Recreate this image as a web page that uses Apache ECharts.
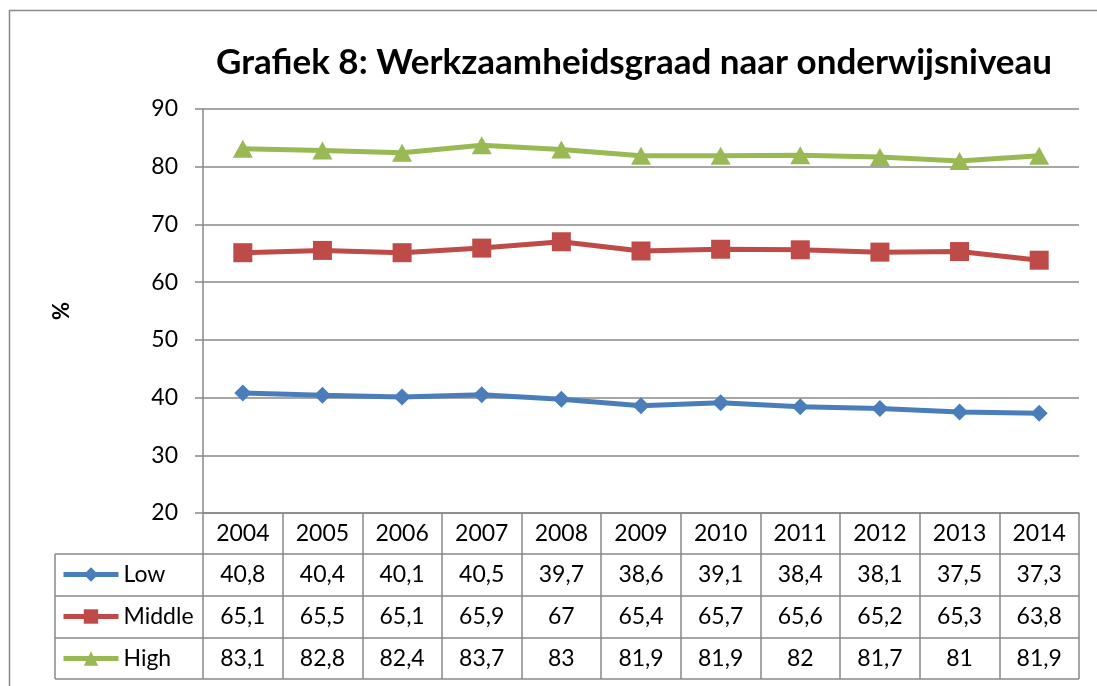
<!DOCTYPE html>
<html>
<head>
<meta charset="utf-8">
<title>Grafiek 8</title>
<script src="https://cdn.jsdelivr.net/npm/echarts@6/dist/echarts.min.js"></script>
<style>
  html, body { margin: 0; padding: 0; background: #fff; }
  #chart { width: 1097px; height: 686px; }
</style>
</head>
<body>
<div id="chart"></div>
<script>
// jaren en werkzaamheidsgraad per niveau
const years = ['2004', '2005', '2006', '2007', '2008', '2009', '2010', '2011', '2012', '2013', '2014']
const low = [40.8, 40.4, 40.1, 40.5, 39.7, 38.6, 39.1, 38.4, 38.1, 37.5, 37.3]
const middle = [65.1, 65.5, 65.1, 65.9, 67, 65.4, 65.7, 65.6, 65.2, 65.3, 63.8]
const high = [83.1, 82.8, 82.4, 83.7, 83, 81.9, 81.9, 82, 81.7, 81, 81.9]

const FONT = 'Lato, "Open Sans", sans-serif'
const GRID = '#888888'
const FS = 23

// komma als decimaalteken
const fmt = v => String(v).replace('.', ',')

// extra x-as per tabelrij, zonder lijnen
const rowAxis = (values, offset) => ({
  type: 'category',
  data: values.map(fmt),
  position: 'bottom',
  offset,
  axisLine: { show: false },
  axisTick: { show: false },
  axisLabel: { color: '#000', fontSize: FS, fontFamily: FONT, margin: 8 }
})

const chart = echarts.init(document.getElementById('chart'))

const plotLeft = 203
const plotRight = 1079
const plotTop = 109
const plotBottom = 513
const tableLeft = 55
const rows = [554, 596, 638, 679]

const option = {
  animation: false,
  title: {
    text: 'Grafiek 8: Werkzaamheidsgraad naar onderwijsniveau',
    left: 211,
    top: 40,
    textStyle: { fontSize: 35, fontWeight: 'bold', color: '#000', fontFamily: FONT }
  },
  legend: {
    orient: 'vertical',
    left: 61,
    top: 563,
    padding: 0,
    itemWidth: 55,
    itemHeight: 18,
    itemGap: 19,
    lineStyle: { width: 5 },
    textStyle: { fontSize: FS, lineHeight: 23, color: '#000', fontFamily: FONT },
    data: ['Low', 'Middle', 'High']
  },
  grid: { left: plotLeft, right: 1097 - plotRight, top: plotTop, bottom: 686 - plotBottom },
  xAxis: [
    {
      type: 'category',
      data: years,
      boundaryGap: true,
      axisLine: { show: true, lineStyle: { color: GRID, width: 1.5 } },
      axisTick: { show: true, length: rows[3] - plotBottom, lineStyle: { color: GRID, width: 1.5 } },
      axisLabel: { color: '#000', fontSize: FS, fontFamily: FONT, margin: 9 }
    },
    rowAxis(low, 42),
    rowAxis(middle, 84),
    rowAxis(high, 126)
  ],
  yAxis: {
    type: 'value',
    min: 20,
    max: 90,
    interval: 10,
    name: '%',
    nameLocation: 'middle',
    nameRotate: 90,
    nameGap: 130,
    nameTextStyle: { fontSize: 22, fontWeight: 'bold', color: '#000', fontFamily: FONT },
    axisLine: { show: true, lineStyle: { color: GRID, width: 1.5 } },
    axisTick: { show: true, length: 8, lineStyle: { color: GRID, width: 1.5 } },
    axisLabel: { color: '#000', fontSize: FS, fontFamily: FONT, margin: 25 },
    splitLine: { lineStyle: { color: GRID, width: 1.5 } }
  },
  series: [
    {
      name: 'Low',
      type: 'line',
      data: low,
      color: '#4A7EBB',
      symbol: 'diamond',
      symbolSize: 17,
      lineStyle: { width: 5 }
    },
    {
      name: 'Middle',
      type: 'line',
      data: middle,
      color: '#BE4B48',
      symbol: 'rect',
      symbolSize: 19,
      lineStyle: { width: 5 }
    },
    {
      name: 'High',
      type: 'line',
      data: high,
      color: '#98B954',
      symbol: 'triangle',
      symbolSize: [20, 18],
      lineStyle: { width: 5 }
    }
  ],
  graphic: [
    {
      type: 'rect',
      silent: true,
      shape: { x: 9.5, y: 10.5, width: 1200, height: 1000 },
      style: { fill: 'none', stroke: GRID, lineWidth: 1.5 }
    },
    ...rows.map(y => ({
      type: 'line',
      silent: true,
      shape: { x1: tableLeft, y1: y, x2: plotRight, y2: y },
      style: { stroke: GRID, lineWidth: 1.5 }
    })),
    {
      type: 'line',
      silent: true,
      shape: { x1: tableLeft, y1: rows[0], x2: tableLeft, y2: rows[3] },
      style: { stroke: GRID, lineWidth: 1.5 }
    }
  ]
}

chart.setOption(option)
</script>
</body>
</html>
